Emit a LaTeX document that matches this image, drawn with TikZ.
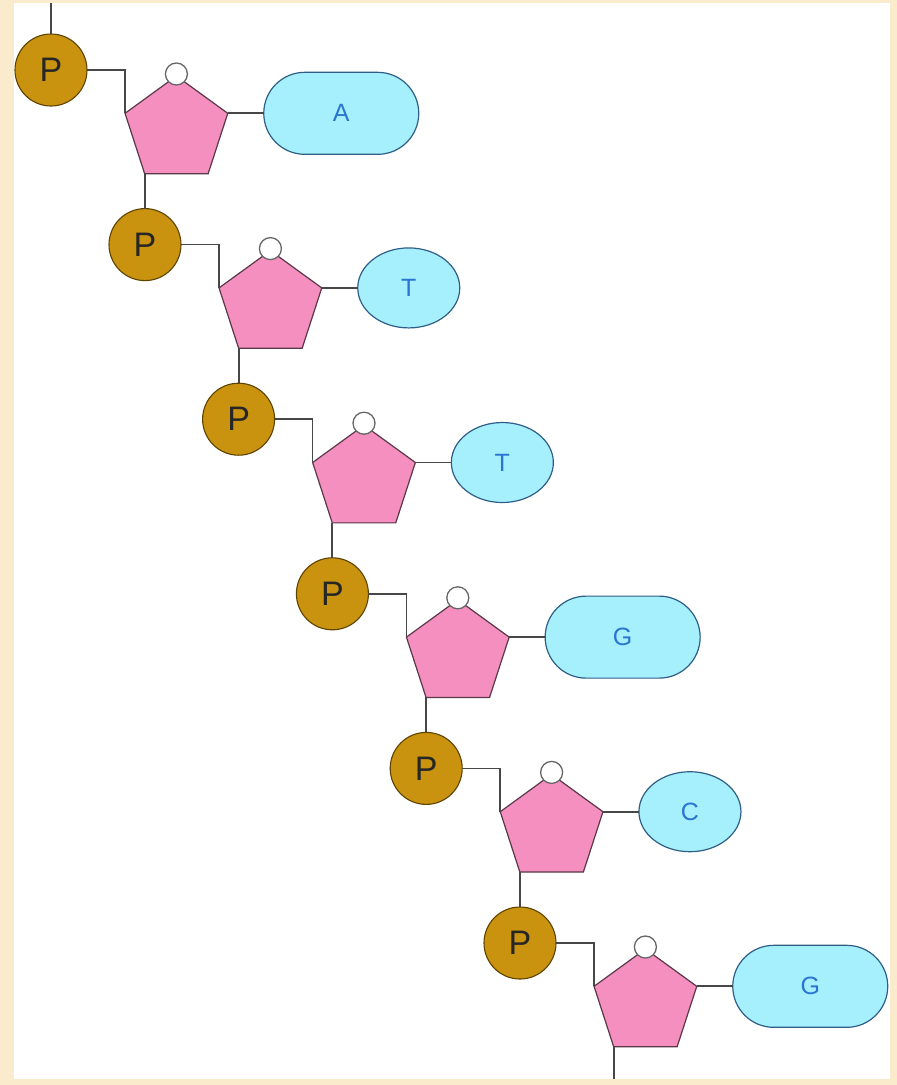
\documentclass[tikz,border=0pt]{standalone}
\usepackage{fontspec}
\setmainfont{Liberation Sans}
\usetikzlibrary{shapes.geometric,shapes.misc}
\definecolor{beige}{HTML}{F9EBCC}
\definecolor{gold}{HTML}{C99310}
\definecolor{golddark}{HTML}{5E4300}
\definecolor{sugarpink}{HTML}{F48FC0}
\definecolor{sugaredge}{HTML}{5A3848}
\definecolor{basecyan}{HTML}{A6F0FE}
\definecolor{baseedge}{HTML}{2F5E86}
\definecolor{basetext}{HTML}{2A74D2}
\definecolor{linec}{HTML}{474747}
\begin{document}
\begin{tikzpicture}[x=1pt,y=-1pt,
  phos/.style={circle,fill=gold,draw=golddark,line width=1.1pt,minimum size=72pt,inner sep=0pt,outer sep=0pt,font=\fontsize{34}{34}\selectfont,text=black!85},
  sugar/.style={regular polygon,regular polygon sides=5,minimum size=108pt,inner sep=0pt,outer sep=0pt,fill=sugarpink,draw=sugaredge,line width=1.2pt},
  oxy/.style={circle,fill=white,draw=gray!80!black,line width=1.3pt,minimum size=22pt,inner sep=0pt,outer sep=0pt},
  basewide/.style={rounded rectangle,minimum width=155pt,minimum height=82pt,inner sep=0pt,outer sep=0pt,fill=basecyan,draw=baseedge,line width=1.2pt,text=basetext,font=\fontsize{25}{25}\selectfont},
  basenarrow/.style={ellipse,minimum width=102pt,minimum height=80pt,inner sep=0pt,outer sep=0pt,fill=basecyan,draw=baseedge,line width=1.2pt,text=basetext,font=\fontsize{25}{25}\selectfont},
  bond/.style={draw=linec,line width=1.7pt}]
\useasboundingbox (0,0) rectangle (897,1085);
\fill[beige] (0,0) rectangle (897,1085);
\fill[white] (14,3) rectangle (890,1079);
\coordinate (top) at (51,3);
\foreach \i/\px/\py/\L/\bs in {1/51/70/A/basewide,2/145/244.6/T/basenarrow,3/238.6/419.2/T/basenarrow,4/332.4/593.8/G/basewide,5/426.2/768.4/C/basenarrow,6/520/943/G/basewide}{
  \node[sugar] (S\i) at (\px+125.4,\py+60) {};
  \node[oxy] (O\i) at ([yshift=2pt]S\i.corner 1) {};
  \node[phos] (P\i) at (\px,\py) {P};
  \node[\bs,anchor=west] (B\i) at ([xshift=36pt]S\i.corner 5) {\L};
  \draw[bond] (P\i.east) -| (S\i.corner 2);
  \draw[bond] (S\i.corner 5) -- (B\i.west);
}
\draw[bond] (top) -- (P1.north);
\foreach \i/\j in {1/2,2/3,3/4,4/5,5/6}{
  \draw[bond] (S\i.corner 3) -- (S\i.corner 3 |- P\j.north);
}
\coordinate (bottom) at (S6.corner 3 |- 0,1079);
\draw[bond] (S6.corner 3) -- (bottom);
\end{tikzpicture}
\end{document}
